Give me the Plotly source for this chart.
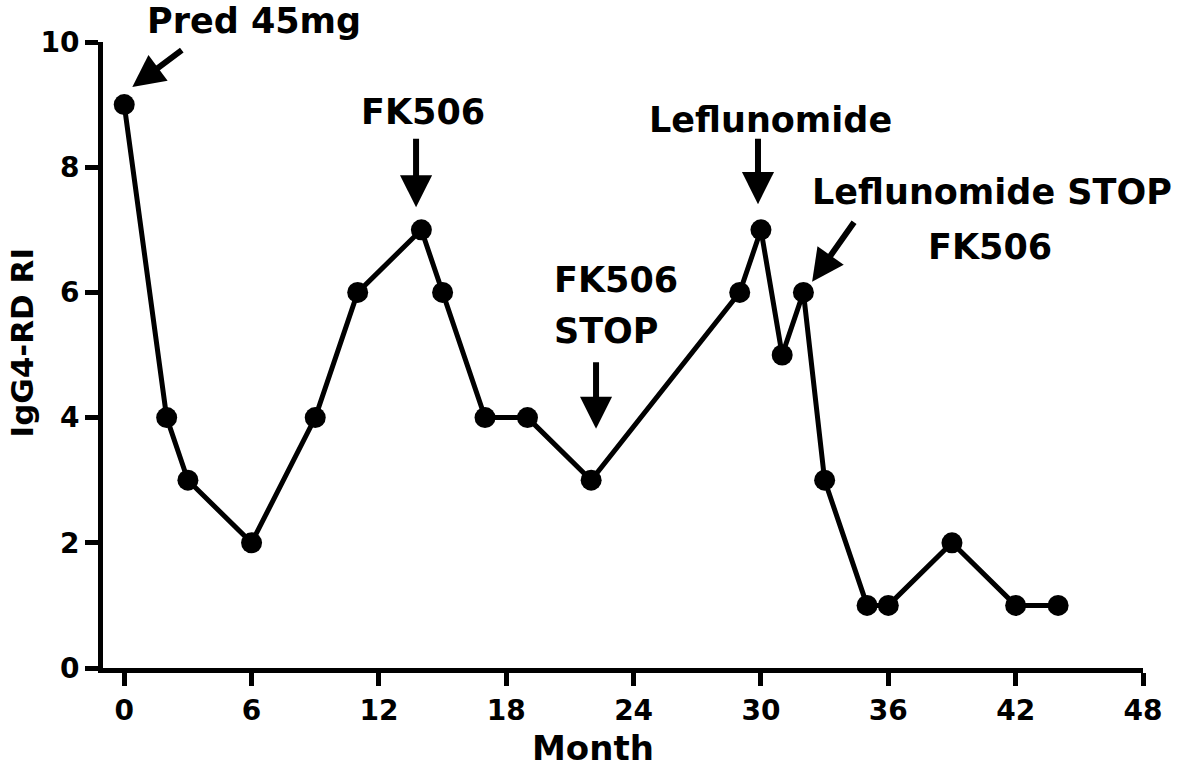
import plotly.graph_objects as go

months = [0, 2, 3, 6, 9, 11, 14, 15, 17, 19, 22, 29, 30, 31, 32, 33, 35, 36, 39, 42, 44]
ri_score = [9, 4, 3, 2, 4, 6, 7, 6, 4, 4, 3, 6, 7, 5, 6, 3, 1, 1, 2, 1, 1]
x_ticks = [0, 6, 12, 18, 24, 30, 36, 42, 48]
y_ticks = [0, 2, 4, 6, 8, 10]

FONT = "DejaVu Sans"
BLACK = "#000000"

fig = go.Figure()
fig.add_trace(go.Scatter(
    x=months, y=ri_score, mode="lines+markers",
    line=dict(color=BLACK, width=5),
    marker=dict(color=BLACK, size=21),
    cliponaxis=False, showlegend=False,
))

# arrows: tip in data coords, tail as pixel offset
arrows = [
    (0.38, 9.28, 51, -38),
    (13.75, 7.36, 0, -70),
    (22.23, 3.82, 0, -68),
    (29.86, 7.41, 0, -67),
    (32.41, 6.17, 43, -61),
]
for x, y, ax, ay in arrows:
    fig.add_annotation(x=x, y=y, ax=ax, ay=ay, xref="x", yref="y", text="",
                       showarrow=True, arrowhead=2, arrowwidth=6, arrowsize=1.07,
                       arrowcolor=BLACK)

# label text in paper coords (px-103)/1040, (668-py)/626
labels = [
    ("Pred 45mg", 0.1452, 1.033, "center"),
    ("FK506", 0.3077, 0.888, "center"),
    ("FK506", 0.4317, 0.620, "left"),
    ("STOP", 0.4317, 0.539, "left"),
    ("Leflunomide", 0.6423, 0.876, "center"),
    ("Leflunomide STOP", 0.8548, 0.761, "center"),
    ("FK506", 0.8529, 0.673, "center"),
]
for txt, x, y, anchor in labels:
    fig.add_annotation(x=x, y=y, xref="paper", yref="paper", text=txt,
                       showarrow=False, xanchor=anchor, yanchor="middle",
                       font=dict(family=FONT, size=35, color=BLACK, weight="bold"))

fig.add_annotation(x=0.471, y=-0.128, xref="paper", yref="paper", text="Month",
                   showarrow=False, xanchor="center", yanchor="middle",
                   font=dict(family=FONT, size=34, color=BLACK, weight="bold"))
fig.add_annotation(x=-0.077, y=0.52, xref="paper", yref="paper", text="IgG4-RD RI",
                   showarrow=False, textangle=-90, xanchor="center", yanchor="middle",
                   font=dict(family=FONT, size=31, color=BLACK, weight="bold"))

axis_style = dict(
    showgrid=False, zeroline=False, showline=True, linecolor=BLACK, linewidth=5,
    ticks="outside", ticklen=13, tickwidth=5, tickcolor=BLACK,
    tickfont=dict(family=FONT, size=28, color=BLACK, weight="bold"),
)
fig.update_xaxes(range=[-1, 48], tickvals=x_ticks, **axis_style)
fig.update_yaxes(range=[0, 10], tickvals=y_ticks, **axis_style)

fig.update_layout(
    width=1181, height=770,
    margin=dict(l=103, r=38, t=42, b=102),
    plot_bgcolor="white", paper_bgcolor="white",
)

fig.write_html(
    "out.html",
    config={"displayModeBar": False},
    post_script="document.body.style.margin='0';document.body.style.overflow='hidden';",
)
